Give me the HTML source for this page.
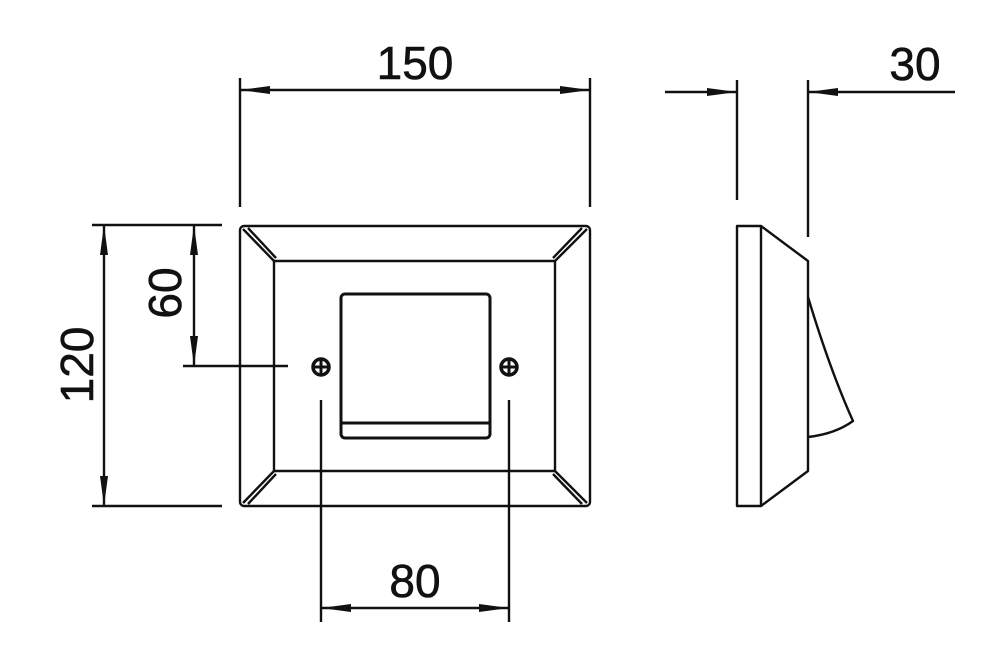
<!DOCTYPE html>
<html><head><style>html,body{margin:0;padding:0;background:#fff;}svg{display:block}</style></head>
<body>
<svg width="1007" height="656" viewBox="0 0 1007 656" xmlns="http://www.w3.org/2000/svg">
<defs>
<marker id="a" viewBox="0 0 30 8" refX="30" refY="4" markerWidth="30" markerHeight="8" markerUnits="userSpaceOnUse" orient="auto-start-reverse">
<path d="M0,0 L30,4 L0,8 Z" fill="#111"/>
</marker>
</defs>
<g stroke="#111" stroke-width="2.4" fill="none" stroke-linejoin="round">
<rect x="240" y="226" width="350" height="280" rx="4"/>
<rect x="274" y="261" width="281" height="210"/>
<path d="M243,229 L274,261 M248,228 L276,258"/>
<path d="M587,229 L555,261 M582,228 L553,258"/>
<path d="M243,503 L274,471 M248,504 L276,474"/>
<path d="M587,503 L555,471 M582,504 L553,474"/>
<rect x="341" y="294" width="149" height="144" rx="4" stroke-width="3"/>
<path d="M341,423 L490,423" stroke-width="3"/>
<circle cx="321" cy="367" r="8" stroke-width="3.5"/>
<path d="M313,367 L329,367 M321,359 L321,375" stroke-width="3"/>
<circle cx="509" cy="367" r="8" stroke-width="3.5"/>
<path d="M501,367 L517,367 M509,359 L509,375" stroke-width="3"/>
<rect x="737" y="226" width="24" height="280"/>
<path d="M761,226 L808,261 L808,471 L761,506"/>
<path d="M808,297 Q830,370 853,421 Q835,434 808,437"/>
<path d="M240,78 L240,207 M590,78 L590,207"/>
<path d="M737,80 L737,200 M808,80 L808,237"/>
<path d="M92,225 L222,225 M92,506 L222,506"/>
<path d="M183,366 L288,366"/>
<path d="M321,400 L321,622 M509,400 L509,622"/>
<path d="M240,90 L590,90" marker-start="url(#a)" marker-end="url(#a)"/>
<path d="M665,92 L737,92" marker-end="url(#a)"/>
<path d="M955,92 L808,92" marker-end="url(#a)"/>
<path d="M104,225 L104,506" marker-start="url(#a)" marker-end="url(#a)"/>
<path d="M194,225 L194,366" marker-start="url(#a)" marker-end="url(#a)"/>
<path d="M321,608 L509,608" marker-start="url(#a)" marker-end="url(#a)"/>
</g>
<g font-family="Liberation Sans, sans-serif" font-size="46" fill="#111" stroke="#111" stroke-width="0.6" text-anchor="middle">
<text x="415" y="79">150</text>
<text x="915" y="80">30</text>
<text x="415" y="597">80</text>
<text transform="translate(93,365) rotate(-90)">120</text>
<text transform="translate(181,293) rotate(-90)">60</text>
</g>
</svg>
</body></html>
